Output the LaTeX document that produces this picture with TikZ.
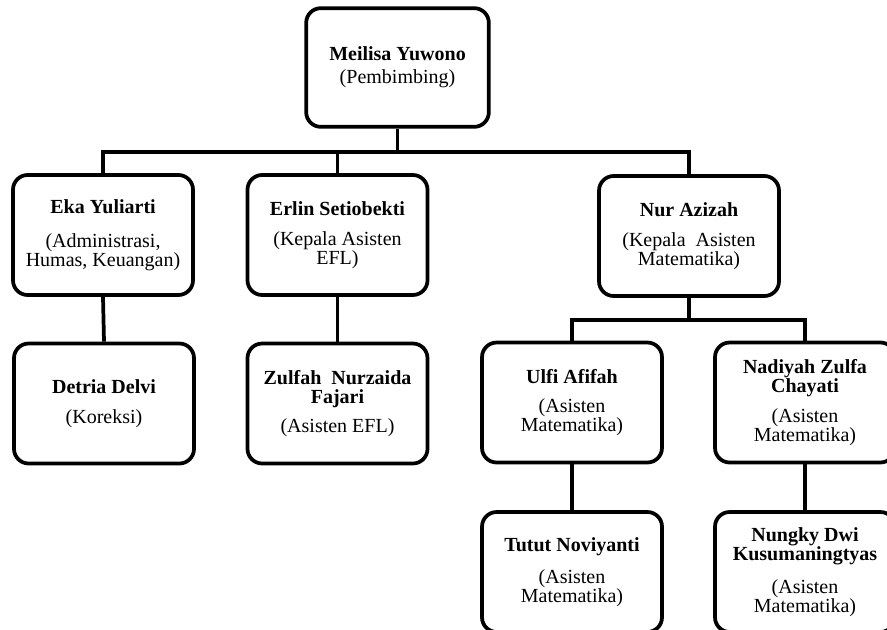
\documentclass[tikz,border=0pt]{standalone}
\usepackage{fontspec}
\setmainfont{Liberation Serif}
\usepackage{tikz}

\tikzset{
  kotak/.style={draw, line width=2.8pt, rounded corners=11pt, fill=white,
    minimum width=135pt, minimum height=90pt, align=center, inner sep=2pt,
    font=\fontsize{15}{14.3}\selectfont},
  garis/.style={line width=2.8pt, line join=miter}
}

\begin{document}
\begin{tikzpicture}[x=0.75pt, y=-0.75pt]
  \useasboundingbox (0,0) rectangle (887,629);
  \clip (0,0) rectangle (887,629);

  % boxes
  \node[kotak, minimum width=137pt, minimum height=89pt] (pembimbing) at (397.5,67.5)
    {\textbf{Meilisa Yuwono}\\[3pt](Pembimbing)};
  \node[kotak] (eka) at (103,235)
    {\textbf{Eka Yuliarti}\\[11pt](Administrasi,\\Humas, Keuangan)};
  \node[kotak] (erlin) at (337.5,235)
    {\textbf{Erlin Setiobekti}\\[8pt](Kepala Asisten\\EFL)};
  \node[kotak] (nur) at (689,236)
    {\textbf{Nur Azizah}\\[8pt](Kepala\ \ Asisten\\Matematika)};
  \node[kotak] (detria) at (104,403.5)
    {\textbf{Detria Delvi}\\[8pt](Koreksi)};
  \node[kotak] (zulfah) at (337.5,403.5)
    {\textbf{Zulfah\ \ Nurzaida}\\\textbf{Fajari}\\[8pt](Asisten EFL)};
  \node[kotak] (ulfi) at (572,402.5)
    {\textbf{Ulfi Afifah}\\[8pt](Asisten\\Matematika)};
  \node[kotak] (nadiyah) at (805,402.5)
    {\textbf{Nadiyah Zulfa}\\\textbf{Chayati}\\[8pt](Asisten\\Matematika)};
  \node[kotak] (tutut) at (572,572)
    {\textbf{Tutut Noviyanti}\\[10pt](Asisten\\Matematika)};
  \node[kotak] (nungky) at (805,572)
    {\textbf{Nungky Dwi}\\\textbf{Kusumaningtyas}\\[10pt](Asisten\\Matematika)};

  % connectors
  \coordinate (busatas) at (397.5,152);
  \coordinate (busbawah) at (689,320);
  \draw[garis] (pembimbing.south) -- (busatas);
  \draw[garis] (eka.north) |- (busatas) -| (nur.north);
  \draw[garis, line width=2.2pt] (erlin.north) -- (erlin.north |- busatas);
  \draw[garis] (eka.south) -- (detria.north);
  \draw[garis, line width=2.2pt] (erlin.south) -- (zulfah.north);
  \draw[garis] (nur.south) -- (busbawah);
  \draw[garis] (ulfi.north) |- (busbawah) -| (nadiyah.north);
  \draw[garis] (ulfi.south) -- (tutut.north);
  \draw[garis] (nadiyah.south) -- (nungky.north);
\end{tikzpicture}
\end{document}
